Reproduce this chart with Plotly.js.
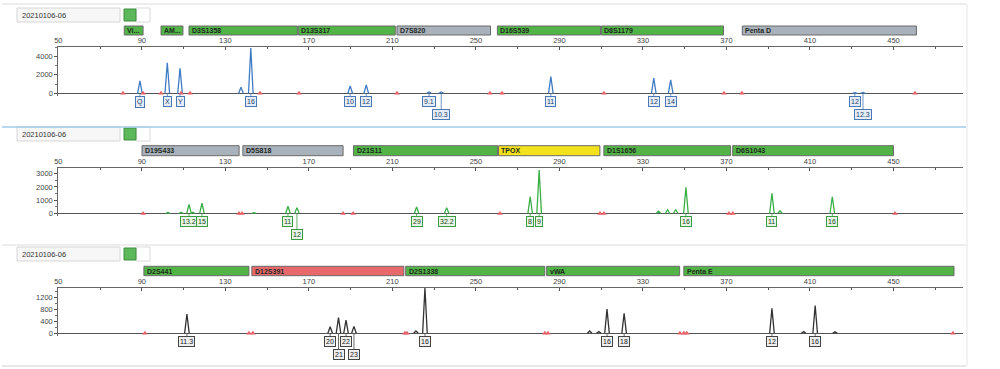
<!DOCTYPE html>
<html><head><meta charset="utf-8">
<script src="https://cdn.plot.ly/plotly-3.0.1.min.js"></script>
<style>html,body{margin:0;padding:0;background:#fff}#chart{width:1000px;height:369px}</style>
</head><body><div id="chart"></div>
<script>
// ---------------- data ----------------
const sampleName = "20210106-06";

// Panel 1 (blue dye)
const p1Pos    = [89.1, 102.2, 108.3, 137.5, 142.2, 189.8, 197.5, 227.6, 233.4, 285.9, 335.2, 343.3, 431.5, 435.4];
const p1Height = [1330, 3300, 2700, 650, 4900, 790, 900, 150, 150, 1800, 1650, 1440, 80, 100];
const p1Allele = ["Q", "X", "Y", "", "16", "10", "12", "9.1", "10.3", "11", "12", "14", "12", "12.3"];
const p1Row    = [1, 1, 1, 0, 1, 1, 1, 1, 2, 1, 1, 1, 1, 2];
const p1Std    = [81.0, 90.6, 99.2, 108.8, 113.1, 146.6, 165.3, 212.2, 256.7, 262.5, 311.3, 368.8, 377.4, 460.3];
const p1LocusName  = ["Vi...", "AM...", "D3S1358", "D13S317", "D7S820", "D16S539", "D8S1179", "Penta D"];
const p1LocusStart = [81.6, 99.2, 112.6, 164.9, 212.2, 260.3, 310.1, 377.6];
const p1LocusEnd   = [90.6, 109.7, 164.5, 211.4, 257.0, 309.7, 368.6, 461.0];
const p1LocusState = ["ok", "ok", "ok", "ok", "none", "ok", "ok", "none"];

// Panel 2 (green dye)
const p2Pos    = [102.5, 108.8, 112.6, 114.4, 118.8, 143.7, 160.0, 164.3, 221.6, 236.0, 276.0, 280.3, 337.5, 341.8, 345.7, 350.6, 391.8, 395.6, 420.7];
const p2Height = [80, 100, 690, 100, 770, 60, 540, 440, 490, 440, 1260, 3270, 180, 280, 300, 1970, 1520, 200, 1260];
const p2Allele = ["", "", "13.2", "", "15", "", "11", "12", "29", "32.2", "8", "9", "", "", "", "16", "11", "", "16"];
const p2Row    = [0, 0, 1, 0, 1, 0, 1, 2, 1, 1, 1, 1, 0, 0, 0, 1, 1, 0, 1];
const p2Std    = [90.6, 136.5, 138.0, 186.4, 191.2, 261.5, 309.4, 311.3, 371.2, 373.1, 450.7];
const p2LocusName  = ["D19S433", "D5S818", "D21S11", "TPOX", "D1S1656", "D6S1043"];
const p2LocusStart = [90.1, 138.4, 191.4, 260.8, 311.3, 373.0];
const p2LocusEnd   = [136.6, 186.4, 260.4, 309.4, 372.0, 450.0];
const p2LocusState = ["none", "none", "ok", "warn", "ok", "ok"];

// Panel 3 (black dye)
const p3Pos    = [111.6, 180.2, 184.2, 187.8, 191.6, 221.3, 225.6, 304.5, 308.9, 312.8, 321.0, 391.8, 407.0, 412.5, 422.0];
const p3Height = [650, 220, 525, 440, 235, 80, 1520, 80, 60, 815, 670, 840, 60, 930, 50];
const p3Allele = ["11.3", "20", "21", "22", "23", "", "16", "", "", "16", "18", "12", "", "16", ""];
const p3Row    = [1, 1, 2, 1, 2, 0, 1, 0, 0, 1, 1, 1, 0, 1, 0];
const p3Std    = [91.5, 141.3, 143.2, 216.0, 217.0, 283.0, 284.5, 347.7, 349.6, 351.0, 478.5];
const p3LocusName  = ["D2S441", "D12S391", "D2S1338", "vWA", "Penta E"];
const p3LocusStart = [91.0, 142.7, 216.4, 283.9, 349.6];
const p3LocusEnd   = [141.3, 215.5, 283.0, 347.6, 479.0];
const p3LocusState = ["ok", "fail", "ok", "ok", "ok"];

// ---------------- styling / layout helpers ----------------
const H = 369, W = 1000;
const py = v => 1 - v / H;   // pixel row -> paper y
const px = v => v / W;       // pixel col -> paper x
const FONT = "Liberation Sans, Arial, sans-serif";
const stateColor = {ok: "#52b447", none: "#a9b1ba", warn: "#f3e11c", fail: "#e8696b"};

const panels = [
  {pos: p1Pos, h: p1Height, al: p1Allele, row: p1Row, std: p1Std,
   ln: p1LocusName, ls: p1LocusStart, le: p1LocusEnd, st: p1LocusState,
   color: "#3f7cc4", boxBg: "#e3ecf7", boxLine: "#4a78b5", boxText: "#1f3f70",
   plotTop: 47, plotBot: 96, yRange: [-290, 5000], dtick: 2000, minor: 1000,
   barTop: 26, barBot: 35, headY: 15},
  {pos: p2Pos, h: p2Height, al: p2Allele, row: p2Row, std: p2Std,
   ln: p2LocusName, ls: p2LocusStart, le: p2LocusEnd, st: p2LocusState,
   color: "#3aae47", boxBg: "#e5f4e3", boxLine: "#3c9a45", boxText: "#1d4a20",
   plotTop: 168, plotBot: 216, yRange: [-190, 3420], dtick: 1000, minor: 500,
   barTop: 145.7, barBot: 155.7, headY: 134},
  {pos: p3Pos, h: p3Height, al: p3Allele, row: p3Row, std: p3Std,
   ln: p3LocusName, ls: p3LocusStart, le: p3LocusEnd, st: p3LocusState,
   color: "#333333", boxBg: "#eeeeee", boxLine: "#444444", boxText: "#222222",
   plotTop: 287.7, plotBot: 336, yRange: [-90, 1533], dtick: 400, minor: 200,
   barTop: 266.3, barBot: 275.7, headY: 254}
];

const traces = [];
const shapes = [];
const annotations = [];
const layout = {
  width: W, height: H,
  margin: {l: 0, r: 0, t: 0, b: 0},
  paper_bgcolor: "#ffffff", plot_bgcolor: "#ffffff",
  showlegend: false,
  font: {family: FONT, size: 8, color: "#333"}
};

const halfW = 1.1;

panels.forEach((p, i) => {
  const n = i + 1;
  const xa = n === 1 ? "x" : "x" + n;
  const ya = n === 1 ? "y" : "y" + n;
  const xKey = n === 1 ? "xaxis" : "xaxis" + n;
  const yKey = n === 1 ? "yaxis" : "yaxis" + n;

  // peaks
  const xs = [], ys = [];
  p.pos.forEach((v, k) => {
    xs.push(v - halfW, v, v + halfW, null);
    ys.push(0, p.h[k], 0, null);
  });
  traces.push({type: "scatter", mode: "lines", x: xs, y: ys, xaxis: xa, yaxis: ya,
    line: {color: p.color, width: 1.3}, hoverinfo: "skip"});

  // size-standard markers
  traces.push({type: "scatter", mode: "markers", x: p.std, y: p.std.map(() => 0),
    xaxis: xa, yaxis: ya, marker: {symbol: "triangle-up", size: 5, color: "#e4646a"},
    hoverinfo: "skip"});

  // allele label boxes
  p.pos.forEach((v, k) => {
    if (!p.al[k]) return;
    annotations.push({xref: xa, yref: ya, x: v, y: 0, text: p.al[k],
      showarrow: true, arrowhead: 0, arrowwidth: 0.8, arrowcolor: p.boxLine,
      ax: 0, ay: p.row[k] === 2 ? 21 : 8.5,
      font: {family: FONT, size: 7, color: p.boxText},
      bgcolor: p.boxBg, bordercolor: p.boxLine, borderwidth: 1, borderpad: 1});
  });

  // axes
  const dom = [py(p.plotBot), py(p.plotTop)];
  layout[xKey] = {domain: [px(58.3), px(963)], range: [50, 483.3], anchor: ya, side: "top",
    showline: true, linecolor: "#666", linewidth: 1, showgrid: false, zeroline: false,
    tickmode: "linear", tick0: 50, dtick: 40, ticks: "inside", ticklen: 3, tickcolor: "#555",
    minor: {tick0: 50, dtick: 20, ticks: "inside", ticklen: 2, tickcolor: "#555"},
    tickfont: {family: FONT, size: 7.5, color: "#444"}, fixedrange: true};
  layout[yKey] = {domain: dom, range: p.yRange, anchor: xa,
    showline: true, linecolor: "#666", linewidth: 1, showgrid: false,
    zeroline: true, zerolinecolor: "#555", zerolinewidth: 1,
    tickmode: "linear", tick0: 0, dtick: p.dtick, tickformat: "d",
    ticks: "outside", ticklen: 3, tickcolor: "#555",
    minor: {dtick: p.minor, ticks: "outside", ticklen: 2, tickcolor: "#777"},
    tickfont: {family: FONT, size: 7.5, color: "#444"}, fixedrange: true};

  // locus bars
  p.ln.forEach((name, k) => {
    shapes.push({type: "rect", xref: xa, yref: "paper",
      x0: p.ls[k], x1: p.le[k], y0: py(p.barBot), y1: py(p.barTop),
      fillcolor: stateColor[p.st[k]], line: {color: "#6a6a6a", width: 1}, layer: "above"});
    annotations.push({xref: xa, yref: "paper", x: p.ls[k], y: py((p.barTop + p.barBot) / 2),
      xanchor: "left", yanchor: "middle", xshift: 1, showarrow: false, text: "<b>" + name + "</b>",
      font: {family: FONT, size: 7, color: "#1f2a1f"}});
  });

  // header: sample name box + status square
  shapes.push({type: "rect", xref: "paper", yref: "paper", x0: px(17), x1: px(120),
    y0: py(p.headY + 7), y1: py(p.headY - 7), fillcolor: "#f7f7f7",
    line: {color: "#d6d6d6", width: 1}});
  shapes.push({type: "rect", xref: "paper", yref: "paper", x0: px(136), x1: px(150),
    y0: py(p.headY + 7), y1: py(p.headY - 7), fillcolor: "#ffffff",
    line: {color: "#dadada", width: 1}});
  shapes.push({type: "rect", xref: "paper", yref: "paper", x0: px(124), x1: px(136),
    y0: py(p.headY + 6), y1: py(p.headY - 6), fillcolor: "#5cb85a",
    line: {color: "#3f8f3f", width: 1}});
  annotations.push({xref: "paper", yref: "paper", x: px(20), y: py(p.headY), xanchor: "left",
    yanchor: "middle", showarrow: false, text: sampleName,
    font: {family: FONT, size: 7.5, color: "#333"}});
});

// panel separators / frame
shapes.push({type: "line", xref: "paper", yref: "paper", x0: px(2), x1: px(966), y0: py(4), y1: py(4), line: {color: "#dcdcdc", width: 1}});
shapes.push({type: "line", xref: "paper", yref: "paper", x0: px(2), x1: px(966), y0: py(127), y1: py(127), line: {color: "#9fcbe8", width: 1.5}});
shapes.push({type: "line", xref: "paper", yref: "paper", x0: px(2), x1: px(966), y0: py(245), y1: py(245), line: {color: "#dcdcdc", width: 1}});
shapes.push({type: "line", xref: "paper", yref: "paper", x0: px(2), x1: px(966), y0: py(366), y1: py(366), line: {color: "#d0d0d0", width: 1}});
shapes.push({type: "line", xref: "paper", yref: "paper", x0: px(967), x1: px(967), y0: py(4), y1: py(366), line: {color: "#e6e6e6", width: 1}});

layout.shapes = shapes;
layout.annotations = annotations;

Plotly.newPlot("chart", traces, layout, {staticPlot: true, displayModeBar: false});
</script>
</body></html>
